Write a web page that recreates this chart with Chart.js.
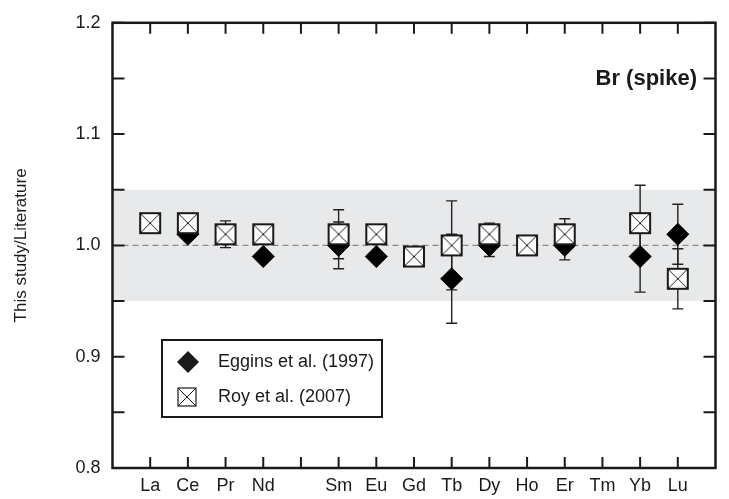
<!DOCTYPE html>
<html>
<head>
<meta charset="utf-8">
<script src="https://cdn.jsdelivr.net/npm/chart.js@4.4.0/dist/chart.umd.min.js"></script>
<style>
  html, body { margin: 0; padding: 0; background: #fff; }
  #wrap { width: 729px; height: 499px; position: relative; }
</style>
</head>
<body>
<div id="wrap"><canvas id="chart"></canvas></div>
<script>
'use strict';

// element slots along x (blank slot = Pm, no data)
const ELEMENTS = ['La', 'Ce', 'Pr', 'Nd', '', 'Sm', 'Eu', 'Gd', 'Tb', 'Dy', 'Ho', 'Er', 'Tm', 'Yb', 'Lu'];

const EGGINS = [null, 1.01, null, 0.99, null, 1.00, 0.99, null, 0.97, 1.00, null, 1.00, null, 0.99, 1.01];
const EGGINS_ERR = [null, null, null, null, null, 0.021, null, null, 0.04, 0.01, null, 0.013, null, 0.032, 0.027];

const ROY = [1.02, 1.02, 1.01, 1.01, null, 1.01, 1.01, 0.99, 1.00, 1.01, 1.00, 1.01, null, 1.02, 0.97];
const ROY_ERR = [null, null, 0.012, null, null, 0.022, null, null, 0.04, 0.01, null, 0.014, null, 0.034, 0.027];

const Y_MIN = 0.8;
const Y_MAX = 1.2;
const BAND = { min: 0.95, max: 1.05 };
const REF_LINE = 1.0;

const FONT = "'Liberation Sans', Arial, Helvetica, sans-serif";
const INK = '#1a1a1a';

function crossedBox(size, lineWidth) {
    const pad = Math.ceil(lineWidth);
    const c = document.createElement('canvas');
    c.width = size + pad * 2;
    c.height = size + pad * 2;
    const g = c.getContext('2d');
    g.fillStyle = '#fff';
    g.fillRect(pad, pad, size, size);
    g.strokeStyle = INK;
    g.lineWidth = 1;
    g.beginPath();
    g.moveTo(pad, pad);
    g.lineTo(pad + size, pad + size);
    g.moveTo(pad + size, pad);
    g.lineTo(pad, pad + size);
    g.stroke();
    g.lineWidth = lineWidth;
    g.strokeRect(pad, pad, size, size);
    return c;
}

const BOX_MARK = crossedBox(20, 2);
const BOX_LEGEND = crossedBox(18, 1.2);

function toPoints(values) {
    return values
        .map((v, i) => (v === null ? null : { x: i, y: v }))
        .filter(p => p !== null);
}

function drawErrorBars(ctx, xs, ys, values, errors) {
    values.forEach((v, i) => {
        const e = errors[i];
        if (v === null || e === null) return;
        const px = xs.getPixelForValue(i);
        const top = ys.getPixelForValue(v + e);
        const bot = ys.getPixelForValue(v - e);
        ctx.beginPath();
        ctx.moveTo(px, top);
        ctx.lineTo(px, bot);
        ctx.moveTo(px - 5.5, top);
        ctx.lineTo(px + 5.5, top);
        ctx.moveTo(px - 5.5, bot);
        ctx.lineTo(px + 5.5, bot);
        ctx.stroke();
    });
}

function diamond(ctx, x, y, r) {
    ctx.beginPath();
    ctx.moveTo(x - r, y);
    ctx.lineTo(x, y - r);
    ctx.lineTo(x + r, y);
    ctx.lineTo(x, y + r);
    ctx.closePath();
    ctx.fill();
}

const backdropPlugin = {
    id: 'backdrop',
    beforeDatasetsDraw(chart) {
        const { ctx, chartArea: a, scales: { x: xs, y: ys } } = chart;
        ctx.save();
        const bTop = ys.getPixelForValue(BAND.max);
        const bBot = ys.getPixelForValue(BAND.min);
        ctx.fillStyle = '#e8e9eb';
        ctx.fillRect(a.left, bTop, a.right - a.left, bBot - bTop);

        const yRef = ys.getPixelForValue(REF_LINE);
        ctx.strokeStyle = '#8a8a8a';
        ctx.lineWidth = 1.2;
        ctx.setLineDash([6, 4]);
        ctx.beginPath();
        ctx.moveTo(a.left, yRef);
        ctx.lineTo(a.right, yRef);
        ctx.stroke();
        ctx.setLineDash([]);

        ctx.strokeStyle = '#222';
        ctx.lineWidth = 1.4;
        drawErrorBars(ctx, xs, ys, EGGINS, EGGINS_ERR);
        drawErrorBars(ctx, xs, ys, ROY, ROY_ERR);
        ctx.restore();
    },
    afterDatasetsDraw(chart) {
        const { ctx, chartArea: a, scales: { x: xs, y: ys } } = chart;
        ctx.save();
        ctx.strokeStyle = INK;

        // inward ticks on all four sides
        ctx.lineWidth = 2;
        ctx.beginPath();
        ELEMENTS.forEach((_, i) => {
            const px = xs.getPixelForValue(i);
            ctx.moveTo(px, a.bottom);
            ctx.lineTo(px, a.bottom - 11);
            ctx.moveTo(px, a.top);
            ctx.lineTo(px, a.top + 11);
        });
        ys.ticks.forEach(t => {
            const py = ys.getPixelForValue(t.value);
            ctx.moveTo(a.left, py);
            ctx.lineTo(a.left + 12, py);
            ctx.moveTo(a.right, py);
            ctx.lineTo(a.right - 12, py);
        });
        ctx.stroke();

        // frame
        ctx.lineWidth = 2.5;
        ctx.strokeRect(a.left, a.top, a.right - a.left, a.bottom - a.top);

        // panel label
        ctx.fillStyle = INK;
        ctx.font = 'bold 22px ' + FONT;
        ctx.textAlign = 'right';
        ctx.textBaseline = 'middle';
        ctx.fillText('Br (spike)', 697, 79);

        // legend
        const lx = 162, ly = 340, lw = 220, lh = 77;
        ctx.fillStyle = '#fff';
        ctx.fillRect(lx, ly, lw, lh);
        ctx.lineWidth = 2;
        ctx.strokeRect(lx, ly, lw, lh);
        ctx.fillStyle = INK;
        diamond(ctx, 188, 362, 11);
        ctx.drawImage(BOX_LEGEND, 187 - BOX_LEGEND.width / 2, 397 - BOX_LEGEND.height / 2);
        ctx.font = '18px ' + FONT;
        ctx.textAlign = 'left';
        ctx.fillText('Eggins et al. (1997)', 218, 362);
        ctx.fillText('Roy et al. (2007)', 218, 397);
        ctx.restore();
    }
};

new Chart(document.getElementById('chart'), {
    type: 'scatter',
    data: {
        datasets: [
            {
                label: 'Roy et al. (2007)',
                data: toPoints(ROY),
                pointStyle: BOX_MARK,
                pointRadius: 11,
            },
            {
                label: 'Eggins et al. (1997)',
                data: toPoints(EGGINS),
                pointStyle: 'rectRot',
                pointRadius: 11,
                backgroundColor: '#000',
                borderColor: '#000',
                borderWidth: 1,
            }
        ]
    },
    options: {
        responsive: true,
        maintainAspectRatio: false,
        animation: false,
        events: [],
        layout: { padding: { top: 20, right: 13.5, left: 0, bottom: 0 } },
        plugins: {
            legend: { display: false },
            tooltip: { enabled: false }
        },
        scales: {
            x: {
                type: 'linear',
                min: -1,
                max: 15,
                grid: { display: false, drawTicks: false },
                border: { display: false },
                afterFit(scale) { scale.height = 31; },
                ticks: {
                    stepSize: 1,
                    autoSkip: false,
                    maxRotation: 0,
                    padding: 7,
                    color: INK,
                    font: { family: FONT, size: 18 },
                    callback: v => ELEMENTS[v] || ''
                }
            },
            y: {
                min: Y_MIN,
                max: Y_MAX,
                grid: { display: false, drawTicks: false },
                border: { display: false },
                afterFit(scale) { scale.width = 112.5; },
                title: {
                    display: true,
                    text: 'This study/Literature',
                    color: INK,
                    font: { family: FONT, size: 17 },
                    padding: { top: 11, bottom: 0 }
                },
                ticks: {
                    stepSize: 0.05,
                    padding: 12,
                    color: INK,
                    font: { family: FONT, size: 18 },
                    callback: v => {
                        const tenth = Math.round(v * 10);
                        return Math.abs(v * 10 - tenth) < 1e-6 ? (tenth / 10).toFixed(1) : '';
                    }
                }
            }
        }
    },
    plugins: [backdropPlugin]
});
</script>
</body>
</html>
